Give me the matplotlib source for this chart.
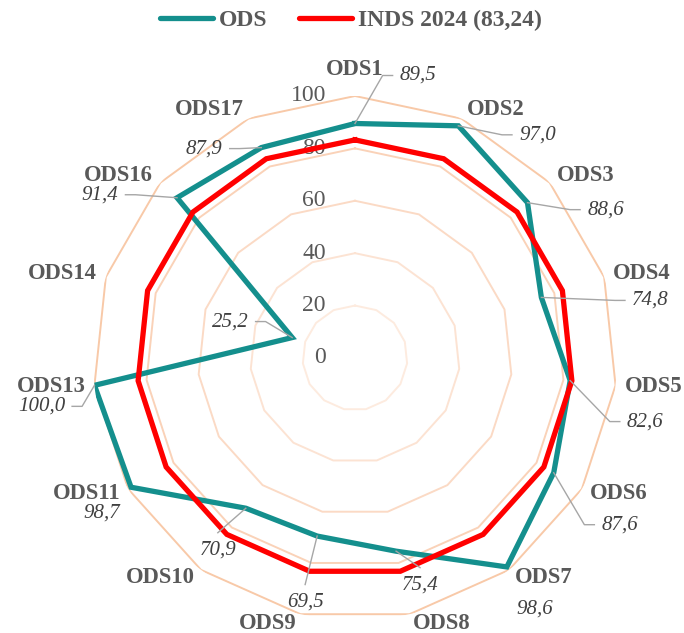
import numpy as np
import matplotlib
matplotlib.use("Agg")
import matplotlib.pyplot as plt
from matplotlib.lines import Line2D

categories = ["ODS1", "ODS2", "ODS3", "ODS4", "ODS5", "ODS6", "ODS7", "ODS8",
              "ODS9", "ODS10", "ODS11", "ODS13", "ODS14", "ODS16", "ODS17"]
ods_values = [89.5, 97.0, 88.6, 74.8, 82.6, 87.6, 98.6, 75.4,
              69.5, 70.9, 98.7, 100.0, 25.2, 91.4, 87.9]
inds_value = 83.24
inds_values = [inds_value] * len(categories)
radial_ticks = [0, 20, 40, 60, 80, 100]
series_labels = ["ODS", "INDS 2024 (83,24)"]

# where each value label sits (pixels from its point) and how its leader is drawn
label_offsets = [(63, 48), (79, -9), (78, -7), (109, -3), (75, -41), (66, -52),
                 (28, -42), (24, -34), (-12, -66), (-28, -42), (-29, -26),
                 (-53, -21), (-62, 16), (-77, 3), (-57, -1)]
leaders = ["side", "side", "side", "side", "side", "side", None, "top", "top",
           "top", None, "side", "side", "side", "side"]

TEAL = "#148F8D"
RED = "#FF0000"
GREY = "#595959"
ring_colors = ["#FDEBDF", "#FCE3D3", "#FBDAC5", "#FAD2B8", "#F8C9A8"]

plt.rcParams["font.family"] = ["Liberation Serif", "DejaVu Serif"]

fig = plt.figure(figsize=(6.84, 6.33), dpi=100)
ax = fig.add_axes([0.136, 0.0205, 0.766, 0.828], projection="polar")
ax.set_theta_offset(np.pi / 2)
ax.set_theta_direction(-1)
ax.set_ylim(0, 100)
ax.axis("off")

n = len(categories)
theta = np.arange(n) * 2 * np.pi / n
closed = np.append(theta, theta[0])

# polygon grid
for v, col in zip(radial_ticks[1:], ring_colors):
    ax.plot(closed, [v] * (n + 1), color=col, lw=1.4, zorder=1)

for v in radial_ticks:
    ax.annotate(str(v), xy=(0, v), xytext=(-29, 0), textcoords="offset pixels",
                ha="right", va="center", fontsize=17, color=GREY, zorder=2,
                annotation_clip=False)

ax.plot(closed, np.append(ods_values, ods_values[0]), color=TEAL, lw=3.8,
        zorder=3, solid_joinstyle="miter")
ax.plot(closed, np.append(inds_values, inds_values[0]), color=RED, lw=3.8,
        zorder=4, solid_joinstyle="miter")

# category labels outside the outer ring
for t, name in zip(theta, categories):
    s, c = np.sin(t), np.cos(t)
    if abs(s) < 0.05:
        ha, dx, dy = "center", 0, 26
    else:
        ha = "left" if s > 0 else "right"
        dx, dy = np.sign(s) * (2 + 7 * abs(s)), 10 * c
    ax.annotate(name, xy=(t, 100), xytext=(dx, dy), textcoords="offset pixels",
                ha=ha, va="center", fontsize=16.3, fontweight="bold", color=GREY,
                annotation_clip=False, zorder=6)

texts = []
for t, v, off in zip(theta, ods_values, label_offsets):
    txt = ax.annotate(f"{v:.1f}".replace(".", ","), xy=(t, v), xytext=off,
                      textcoords="offset pixels", ha="center", va="center",
                      fontsize=15, style="italic", color="#404040",
                      annotation_clip=False, zorder=6)
    texts.append(txt)

handles = [Line2D([], [], color=TEAL, lw=3.8, solid_capstyle="round"),
           Line2D([], [], color=RED, lw=3.8, solid_capstyle="round")]
leg = fig.legend(handles, series_labels, loc="center", bbox_to_anchor=(0.513, 0.968),
                 ncol=2, frameon=False, handlelength=2.25, handletextpad=0.25,
                 columnspacing=1.3, prop=dict(size=17, weight="bold"))
for t in leg.get_texts():
    t.set_color(GREY)

# leader lines, built once the text boxes are known
fig.canvas.draw()
renderer = fig.canvas.get_renderer()
to_fig = fig.transFigure.inverted()
for t, v, txt, kind in zip(theta, ods_values, texts, leaders):
    if kind is None:
        continue
    px, py = ax.transData.transform((t, v))
    bb = txt.get_window_extent(renderer)
    cy = (bb.y0 + bb.y1) / 2
    if kind == "side":
        if bb.x0 > px:
            ex = bb.x0 - 7
            kx = ex - 10
        else:
            ex = bb.x1 + 7
            kx = ex + 10
        pts = [(px, py), (kx, cy), (ex, cy)]
    else:
        pts = [(px, py), ((bb.x0 + bb.x1) / 2, bb.y1 + 8)]
    pts = to_fig.transform(pts)
    fig.add_artist(Line2D(pts[:, 0], pts[:, 1], color="#A6A6A6", lw=1.0, zorder=5))

fig.savefig("out.png", dpi=100)
